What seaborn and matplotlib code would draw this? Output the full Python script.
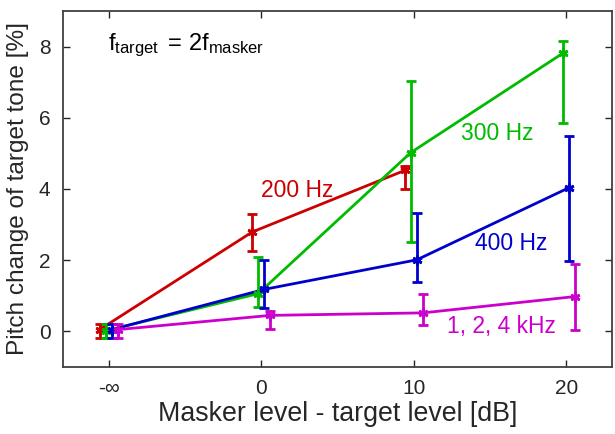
import numpy as np
import pandas as pd
import matplotlib
matplotlib.use("Agg")
import matplotlib.pyplot as plt
import seaborn as sns

# masker level re target level in dB; -10 stands for -inf
levels = [-10, 0, 10, 20]
tick_labels = ["-\u221e", "0", "10", "20"]

series = ["200 Hz", "300 Hz", "400 Hz", "1, 2, 4 kHz"]

mean_200 = [0.05, 2.79, 4.52]
lo_200 = [-0.18, 2.26, 4.00]
hi_200 = [0.22, 3.29, 4.65]

mean_300 = [0.02, 1.06, 5.02, 7.82]
lo_300 = [-0.18, 0.68, 2.51, 5.85]
hi_300 = [0.20, 2.10, 7.02, 8.15]

mean_400 = [0.05, 1.18, 2.01, 4.04]
lo_400 = [-0.18, 0.67, 1.38, 1.99]
hi_400 = [0.22, 2.01, 3.33, 5.50]

mean_khz = [0.05, 0.45, 0.52, 0.98]
lo_khz = [-0.18, 0.07, 0.17, 0.05]
hi_khz = [0.22, 0.57, 1.04, 1.88]

colors = {"200 Hz": "#cc0000", "300 Hz": "#00bb00",
          "400 Hz": "#0000cc", "1, 2, 4 kHz": "#cc00cc"}
dodge = {"200 Hz": -0.6, "300 Hz": -0.2, "400 Hz": 0.2, "1, 2, 4 kHz": 0.6}

means = {"200 Hz": mean_200, "300 Hz": mean_300, "400 Hz": mean_400, "1, 2, 4 kHz": mean_khz}
lows = {"200 Hz": lo_200, "300 Hz": lo_300, "400 Hz": lo_400, "1, 2, 4 kHz": lo_khz}
highs = {"200 Hz": hi_200, "300 Hz": hi_300, "400 Hz": hi_400, "1, 2, 4 kHz": hi_khz}

rows = []
for s in series:
    for lev, m, lo, hi in zip(levels, means[s], lows[s], highs[s]):
        rows.append({"series": s, "level": lev + dodge[s], "pitch": m, "lo": lo, "hi": hi})
df = pd.DataFrame(rows)

sns.set_style("ticks")
plt.rcParams["font.family"] = ["Liberation Sans", "DejaVu Sans"]
plt.rcParams["mathtext.fontset"] = "custom"
plt.rcParams["mathtext.rm"] = "Liberation Sans"
plt.rcParams["mathtext.it"] = "Liberation Sans"

fig = plt.figure(figsize=(6.15, 4.34), dpi=100)
ax = fig.add_axes([0.1024, 0.1544, 0.8927, 0.8203])

sns.lineplot(data=df, x="level", y="pitch", hue="series", palette=colors,
             hue_order=series, linewidth=2.0, legend=False, ax=ax, sort=False)

# error bars and asterisk markers
for s in series:
    d = df[df.series == s]
    ax.errorbar(d.level, d.pitch, yerr=[d.pitch - d.lo, d.hi - d.pitch],
                linestyle="none", marker=(6, 2, 0), markersize=7, markeredgewidth=2,
                color=colors[s], elinewidth=2, capsize=3.5, capthick=2)

ax.set_xlim(-13, 23)
ax.set_ylim(-1, 9)
ax.set_xticks(levels)
ax.set_xticklabels(tick_labels)
ax.set_yticks([0, 2, 4, 6, 8])
ax.tick_params(direction="in", top=True, right=True, length=5, width=1,
               labelsize=15, colors="#262626", pad=9)
for sp in ax.spines.values():
    sp.set_linewidth(1.3)
    sp.set_color("#404040")

ax.set_xlabel("Masker level - target level [dB]", fontsize=19.3, color="#262626", labelpad=2)
ax.set_ylabel("Pitch change of target tone [%]", fontsize=17.6, color="#262626", labelpad=7)

ax.text(0.0, 3.96, "200 Hz", color=colors["200 Hz"], fontsize=16.5, va="center")
ax.text(13.07, 5.56, "300 Hz", color=colors["300 Hz"], fontsize=16.5, va="center")
ax.text(14.03, 2.47, "400 Hz", color=colors["400 Hz"], fontsize=16.5, va="center")
ax.text(12.16, 0.15, "1, 2, 4 kHz", color=colors["1, 2, 4 kHz"], fontsize=16.5, va="center")
ax.text(-10.07, 7.89, r"$\mathregular{f_{target}\;=\,2f_{masker}}$", fontsize=17,
        color="black", va="baseline")

plt.savefig("out.png", dpi=100)
